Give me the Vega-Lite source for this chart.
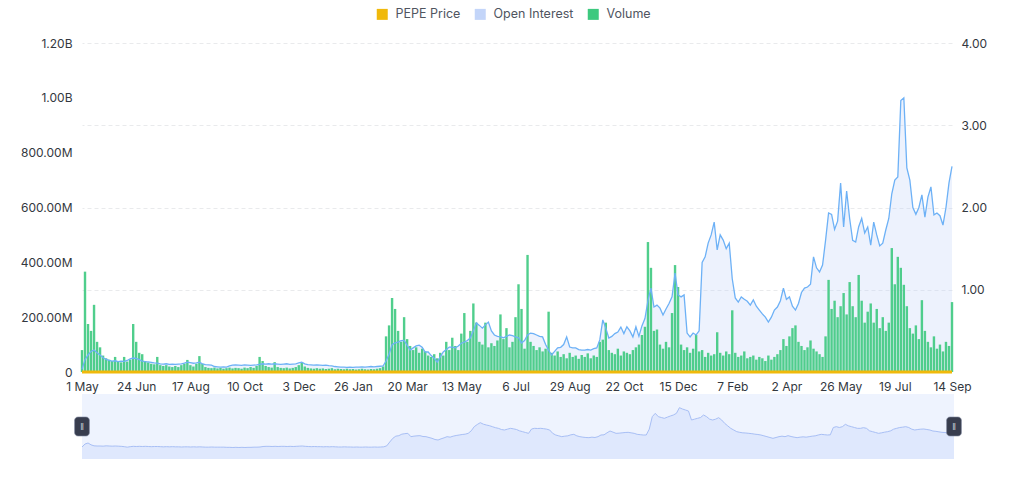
{
  "$schema": "https://vega.github.io/schema/vega-lite/v6.json",
  "description": "PEPE price, open interest and volume with a navigator strip.",
  "background": "white",
  "padding": {"left": 20, "top": 8, "right": 20, "bottom": 20},
  "spacing": 2,
  "datasets": {
    "series": [
      {"d":"2023-05-01","oi":10,"v":80,"p":1.3e-6},
      {"d":"2023-05-04","oi":45,"v":366,"p":3.1e-6},
      {"d":"2023-05-07","oi":62,"v":175,"p":3.7e-6},
      {"d":"2023-05-10","oi":75,"v":150,"p":2.6e-6},
      {"d":"2023-05-13","oi":80,"v":245,"p":2.0e-6},
      {"d":"2023-05-16","oi":70,"v":110,"p":1.9e-6},
      {"d":"2023-05-19","oi":62,"v":90,"p":1.9e-6},
      {"d":"2023-05-22","oi":52,"v":60,"p":1.8e-6},
      {"d":"2023-05-25","oi":46,"v":50,"p":2.0e-6},
      {"d":"2023-05-28","oi":42,"v":45,"p":1.9e-6},
      {"d":"2023-05-31","oi":40,"v":40,"p":1.8e-6},
      {"d":"2023-06-03","oi":41,"v":55,"p":1.9e-6},
      {"d":"2023-06-06","oi":38,"v":40,"p":1.8e-6},
      {"d":"2023-06-09","oi":40,"v":35,"p":1.7e-6},
      {"d":"2023-06-12","oi":39,"v":55,"p":1.5e-6},
      {"d":"2023-06-15","oi":42,"v":38,"p":1.2e-6},
      {"d":"2023-06-18","oi":48,"v":45,"p":1.5e-6},
      {"d":"2023-06-21","oi":51,"v":175,"p":1.7e-6},
      {"d":"2023-06-24","oi":50,"v":110,"p":1.6e-6},
      {"d":"2023-06-27","oi":45,"v":70,"p":1.7e-6},
      {"d":"2023-06-30","oi":40,"v":65,"p":1.6e-6},
      {"d":"2023-07-03","oi":38,"v":40,"p":1.7e-6},
      {"d":"2023-07-06","oi":37,"v":35,"p":1.6e-6},
      {"d":"2023-07-09","oi":35,"v":30,"p":1.5e-6},
      {"d":"2023-07-12","oi":33,"v":28,"p":1.6e-6},
      {"d":"2023-07-15","oi":32,"v":55,"p":1.6e-6},
      {"d":"2023-07-18","oi":30,"v":25,"p":1.5e-6},
      {"d":"2023-07-21","oi":29,"v":22,"p":1.4e-6},
      {"d":"2023-07-24","oi":30,"v":25,"p":1.5e-6},
      {"d":"2023-07-27","oi":28,"v":20,"p":1.4e-6},
      {"d":"2023-07-30","oi":29,"v":18,"p":1.5e-6},
      {"d":"2023-08-02","oi":28,"v":22,"p":1.4e-6},
      {"d":"2023-08-05","oi":29,"v":18,"p":1.4e-6},
      {"d":"2023-08-08","oi":30,"v":25,"p":1.3e-6},
      {"d":"2023-08-11","oi":32,"v":30,"p":1.4e-6},
      {"d":"2023-08-14","oi":36,"v":44,"p":1.4e-6},
      {"d":"2023-08-17","oi":34,"v":25,"p":1.3e-6},
      {"d":"2023-08-20","oi":32,"v":20,"p":1.4e-6},
      {"d":"2023-08-23","oi":33,"v":30,"p":1.3e-6},
      {"d":"2023-08-26","oi":36,"v":58,"p":1.4e-6},
      {"d":"2023-08-29","oi":30,"v":30,"p":1.3e-6},
      {"d":"2023-09-01","oi":27,"v":18,"p":1.2e-6},
      {"d":"2023-09-04","oi":26,"v":15,"p":1.2e-6},
      {"d":"2023-09-07","oi":25,"v":14,"p":1.3e-6},
      {"d":"2023-09-10","oi":20,"v":16,"p":1.2e-6},
      {"d":"2023-09-13","oi":19,"v":13,"p":1.2e-6},
      {"d":"2023-09-16","oi":18,"v":15,"p":1.2e-6},
      {"d":"2023-09-19","oi":19,"v":12,"p":1.2e-6},
      {"d":"2023-09-22","oi":18,"v":14,"p":1.1e-6},
      {"d":"2023-09-25","oi":22,"v":16,"p":1.1e-6},
      {"d":"2023-09-28","oi":25,"v":13,"p":1.0e-6},
      {"d":"2023-10-01","oi":26,"v":15,"p":1.1e-6},
      {"d":"2023-10-04","oi":25,"v":14,"p":1.0e-6},
      {"d":"2023-10-07","oi":24,"v":12,"p":1.1e-6},
      {"d":"2023-10-10","oi":26,"v":16,"p":1.0e-6},
      {"d":"2023-10-13","oi":25,"v":14,"p":1.1e-6},
      {"d":"2023-10-16","oi":24,"v":18,"p":1.1e-6},
      {"d":"2023-10-19","oi":25,"v":15,"p":1.2e-6},
      {"d":"2023-10-22","oi":26,"v":22,"p":1.2e-6},
      {"d":"2023-10-25","oi":28,"v":55,"p":1.3e-6},
      {"d":"2023-10-28","oi":30,"v":40,"p":1.6e-6},
      {"d":"2023-10-31","oi":29,"v":22,"p":1.7e-6},
      {"d":"2023-11-03","oi":30,"v":18,"p":1.7e-6},
      {"d":"2023-11-06","oi":29,"v":16,"p":1.6e-6},
      {"d":"2023-11-09","oi":30,"v":36,"p":1.7e-6},
      {"d":"2023-11-12","oi":29,"v":18,"p":1.6e-6},
      {"d":"2023-11-15","oi":28,"v":15,"p":1.7e-6},
      {"d":"2023-11-18","oi":29,"v":14,"p":1.7e-6},
      {"d":"2023-11-21","oi":30,"v":16,"p":1.6e-6},
      {"d":"2023-11-24","oi":28,"v":13,"p":1.7e-6},
      {"d":"2023-11-27","oi":29,"v":15,"p":1.6e-6},
      {"d":"2023-11-30","oi":30,"v":18,"p":1.7e-6},
      {"d":"2023-12-03","oi":33,"v":25,"p":1.8e-6},
      {"d":"2023-12-06","oi":36,"v":36,"p":1.9e-6},
      {"d":"2023-12-09","oi":30,"v":20,"p":1.7e-6},
      {"d":"2023-12-12","oi":27,"v":15,"p":1.6e-6},
      {"d":"2023-12-15","oi":26,"v":13,"p":1.5e-6},
      {"d":"2023-12-18","oi":25,"v":12,"p":1.6e-6},
      {"d":"2023-12-21","oi":26,"v":14,"p":1.5e-6},
      {"d":"2023-12-24","oi":25,"v":12,"p":1.5e-6},
      {"d":"2023-12-27","oi":24,"v":13,"p":1.4e-6},
      {"d":"2023-12-30","oi":25,"v":11,"p":1.5e-6},
      {"d":"2024-01-02","oi":23,"v":12,"p":1.4e-6},
      {"d":"2024-01-05","oi":22,"v":14,"p":1.5e-6},
      {"d":"2024-01-08","oi":20,"v":10,"p":1.4e-6},
      {"d":"2024-01-11","oi":19,"v":12,"p":1.3e-6},
      {"d":"2024-01-14","oi":18,"v":11,"p":1.3e-6},
      {"d":"2024-01-17","oi":18,"v":10,"p":1.4e-6},
      {"d":"2024-01-20","oi":17,"v":12,"p":1.3e-6},
      {"d":"2024-01-23","oi":18,"v":10,"p":1.3e-6},
      {"d":"2024-01-26","oi":17,"v":11,"p":1.2e-6},
      {"d":"2024-01-29","oi":18,"v":9,"p":1.3e-6},
      {"d":"2024-02-01","oi":18,"v":10,"p":1.2e-6},
      {"d":"2024-02-04","oi":19,"v":12,"p":1.2e-6},
      {"d":"2024-02-07","oi":18,"v":10,"p":1.3e-6},
      {"d":"2024-02-10","oi":19,"v":9,"p":1.2e-6},
      {"d":"2024-02-13","oi":20,"v":11,"p":1.2e-6},
      {"d":"2024-02-16","oi":19,"v":10,"p":1.3e-6},
      {"d":"2024-02-19","oi":20,"v":12,"p":1.2e-6},
      {"d":"2024-02-22","oi":21,"v":14,"p":1.3e-6},
      {"d":"2024-02-25","oi":22,"v":20,"p":1.4e-6},
      {"d":"2024-02-28","oi":40,"v":130,"p":2.0e-6},
      {"d":"2024-03-02","oi":65,"v":170,"p":4.3e-6},
      {"d":"2024-03-05","oi":100,"v":270,"p":6.5e-6},
      {"d":"2024-03-08","oi":106,"v":230,"p":7.8e-6},
      {"d":"2024-03-11","oi":109,"v":150,"p":8.1e-6},
      {"d":"2024-03-14","oi":114,"v":110,"p":9.0e-6},
      {"d":"2024-03-17","oi":115,"v":200,"p":9.3e-6},
      {"d":"2024-03-20","oi":98,"v":120,"p":9.5e-6},
      {"d":"2024-03-23","oi":80,"v":95,"p":7.5e-6},
      {"d":"2024-03-26","oi":88,"v":80,"p":7.8e-6},
      {"d":"2024-03-29","oi":95,"v":90,"p":8.0e-6},
      {"d":"2024-04-01","oi":98,"v":70,"p":8.1e-6},
      {"d":"2024-04-04","oi":90,"v":85,"p":7.6e-6},
      {"d":"2024-04-07","oi":73,"v":75,"p":7.5e-6},
      {"d":"2024-04-10","oi":73,"v":60,"p":7.0e-6},
      {"d":"2024-04-13","oi":60,"v":55,"p":6.5e-6},
      {"d":"2024-04-16","oi":50,"v":65,"p":5.8e-6},
      {"d":"2024-04-19","oi":36,"v":50,"p":5.5e-6},
      {"d":"2024-04-22","oi":55,"v":70,"p":6.2e-6},
      {"d":"2024-04-25","oi":73,"v":60,"p":6.8e-6},
      {"d":"2024-04-28","oi":82,"v":110,"p":7.5e-6},
      {"d":"2024-05-01","oi":91,"v":80,"p":7.2e-6},
      {"d":"2024-05-04","oi":91,"v":125,"p":7.8e-6},
      {"d":"2024-05-07","oi":88,"v":95,"p":8.2e-6},
      {"d":"2024-05-10","oi":95,"v":80,"p":8.5e-6},
      {"d":"2024-05-13","oi":105,"v":140,"p":8.8e-6},
      {"d":"2024-05-16","oi":109,"v":215,"p":9.0e-6},
      {"d":"2024-05-19","oi":115,"v":110,"p":9.5e-6},
      {"d":"2024-05-22","oi":124,"v":150,"p":11.0e-6},
      {"d":"2024-05-25","oi":150,"v":250,"p":13.5e-6},
      {"d":"2024-05-28","oi":179,"v":180,"p":14.8e-6},
      {"d":"2024-05-31","oi":170,"v":110,"p":15.9e-6},
      {"d":"2024-06-03","oi":160,"v":100,"p":15.0e-6},
      {"d":"2024-06-06","oi":172,"v":180,"p":14.5e-6},
      {"d":"2024-06-09","oi":182,"v":90,"p":14.1e-6},
      {"d":"2024-06-12","oi":150,"v":105,"p":13.5e-6},
      {"d":"2024-06-15","oi":135,"v":95,"p":12.9e-6},
      {"d":"2024-06-18","oi":130,"v":115,"p":12.5e-6},
      {"d":"2024-06-21","oi":128,"v":210,"p":11.8e-6},
      {"d":"2024-06-24","oi":125,"v":120,"p":11.5e-6},
      {"d":"2024-06-27","oi":130,"v":160,"p":12.0e-6},
      {"d":"2024-06-30","oi":135,"v":90,"p":12.5e-6},
      {"d":"2024-07-03","oi":133,"v":110,"p":12.2e-6},
      {"d":"2024-07-06","oi":128,"v":200,"p":11.8e-6},
      {"d":"2024-07-09","oi":125,"v":320,"p":11.0e-6},
      {"d":"2024-07-12","oi":106,"v":230,"p":10.5e-6},
      {"d":"2024-07-15","oi":115,"v":85,"p":10.0e-6},
      {"d":"2024-07-18","oi":135,"v":427,"p":9.5e-6},
      {"d":"2024-07-21","oi":142,"v":110,"p":12.1e-6},
      {"d":"2024-07-24","oi":140,"v":95,"p":12.5e-6},
      {"d":"2024-07-27","oi":135,"v":80,"p":12.4e-6},
      {"d":"2024-07-30","oi":130,"v":90,"p":12.5e-6},
      {"d":"2024-08-02","oi":128,"v":75,"p":12.3e-6},
      {"d":"2024-08-05","oi":100,"v":85,"p":12.0e-6},
      {"d":"2024-08-08","oi":80,"v":220,"p":11.5e-6},
      {"d":"2024-08-11","oi":62,"v":70,"p":9.5e-6},
      {"d":"2024-08-14","oi":75,"v":60,"p":8.5e-6},
      {"d":"2024-08-17","oi":88,"v":75,"p":8.0e-6},
      {"d":"2024-08-20","oi":90,"v":55,"p":7.5e-6},
      {"d":"2024-08-23","oi":100,"v":65,"p":7.8e-6},
      {"d":"2024-08-26","oi":128,"v":50,"p":8.0e-6},
      {"d":"2024-08-29","oi":91,"v":70,"p":8.6e-6},
      {"d":"2024-09-01","oi":88,"v":55,"p":8.9e-6},
      {"d":"2024-09-04","oi":88,"v":60,"p":8.0e-6},
      {"d":"2024-09-07","oi":82,"v":48,"p":7.5e-6},
      {"d":"2024-09-10","oi":80,"v":62,"p":7.2e-6},
      {"d":"2024-09-13","oi":80,"v":55,"p":7.0e-6},
      {"d":"2024-09-16","oi":82,"v":68,"p":6.9e-6},
      {"d":"2024-09-19","oi":80,"v":50,"p":7.2e-6},
      {"d":"2024-09-22","oi":85,"v":60,"p":7.0e-6},
      {"d":"2024-09-25","oi":88,"v":55,"p":7.5e-6},
      {"d":"2024-09-28","oi":117,"v":110,"p":8.5e-6},
      {"d":"2024-10-01","oi":190,"v":118,"p":8.6e-6},
      {"d":"2024-10-04","oi":160,"v":180,"p":9.8e-6},
      {"d":"2024-10-07","oi":124,"v":80,"p":10.9e-6},
      {"d":"2024-10-10","oi":130,"v":70,"p":10.2e-6},
      {"d":"2024-10-13","oi":140,"v":65,"p":9.5e-6},
      {"d":"2024-10-16","oi":146,"v":85,"p":9.6e-6},
      {"d":"2024-10-19","oi":164,"v":60,"p":9.8e-6},
      {"d":"2024-10-22","oi":140,"v":75,"p":10.0e-6},
      {"d":"2024-10-25","oi":165,"v":70,"p":10.1e-6},
      {"d":"2024-10-28","oi":150,"v":65,"p":9.8e-6},
      {"d":"2024-10-31","oi":128,"v":80,"p":9.5e-6},
      {"d":"2024-11-03","oi":165,"v":90,"p":8.9e-6},
      {"d":"2024-11-06","oi":130,"v":100,"p":8.7e-6},
      {"d":"2024-11-09","oi":168,"v":135,"p":8.5e-6},
      {"d":"2024-11-12","oi":195,"v":165,"p":8.5e-6},
      {"d":"2024-11-15","oi":260,"v":474,"p":12.0e-6},
      {"d":"2024-11-18","oi":306,"v":380,"p":19.5e-6},
      {"d":"2024-11-21","oi":237,"v":150,"p":21.5e-6},
      {"d":"2024-11-24","oi":244,"v":155,"p":19.5e-6},
      {"d":"2024-11-27","oi":233,"v":100,"p":19.0e-6},
      {"d":"2024-11-30","oi":208,"v":85,"p":18.5e-6},
      {"d":"2024-12-03","oi":230,"v":110,"p":19.2e-6},
      {"d":"2024-12-06","oi":250,"v":90,"p":19.9e-6},
      {"d":"2024-12-09","oi":274,"v":215,"p":20.5e-6},
      {"d":"2024-12-12","oi":361,"v":390,"p":21.5e-6},
      {"d":"2024-12-15","oi":281,"v":310,"p":24.9e-6},
      {"d":"2024-12-18","oi":274,"v":100,"p":24.1e-6},
      {"d":"2024-12-21","oi":281,"v":80,"p":23.5e-6},
      {"d":"2024-12-24","oi":142,"v":90,"p":22.9e-6},
      {"d":"2024-12-27","oi":128,"v":70,"p":17.5e-6},
      {"d":"2024-12-30","oi":142,"v":85,"p":18.0e-6},
      {"d":"2025-01-02","oi":135,"v":135,"p":18.5e-6},
      {"d":"2025-01-05","oi":150,"v":75,"p":19.0e-6},
      {"d":"2025-01-08","oi":400,"v":80,"p":20.5e-6},
      {"d":"2025-01-11","oi":420,"v":55,"p":19.5e-6},
      {"d":"2025-01-14","oi":470,"v":70,"p":18.0e-6},
      {"d":"2025-01-17","oi":500,"v":60,"p":17.5e-6},
      {"d":"2025-01-20","oi":547,"v":65,"p":18.0e-6},
      {"d":"2025-01-23","oi":445,"v":145,"p":18.9e-6},
      {"d":"2025-01-26","oi":500,"v":70,"p":17.5e-6},
      {"d":"2025-01-29","oi":481,"v":60,"p":15.5e-6},
      {"d":"2025-02-01","oi":450,"v":75,"p":14.0e-6},
      {"d":"2025-02-04","oi":470,"v":65,"p":12.5e-6},
      {"d":"2025-02-07","oi":340,"v":225,"p":11.5e-6},
      {"d":"2025-02-10","oi":270,"v":70,"p":10.5e-6},
      {"d":"2025-02-13","oi":255,"v":55,"p":10.1e-6},
      {"d":"2025-02-16","oi":274,"v":60,"p":9.8e-6},
      {"d":"2025-02-19","oi":265,"v":75,"p":9.7e-6},
      {"d":"2025-02-22","oi":258,"v":50,"p":9.5e-6},
      {"d":"2025-02-25","oi":244,"v":55,"p":9.3e-6},
      {"d":"2025-02-28","oi":263,"v":60,"p":9.0e-6},
      {"d":"2025-03-03","oi":240,"v":45,"p":8.8e-6},
      {"d":"2025-03-06","oi":226,"v":55,"p":8.5e-6},
      {"d":"2025-03-09","oi":212,"v":50,"p":8.0e-6},
      {"d":"2025-03-12","oi":200,"v":40,"p":7.5e-6},
      {"d":"2025-03-15","oi":182,"v":60,"p":7.0e-6},
      {"d":"2025-03-18","oi":200,"v":45,"p":6.5e-6},
      {"d":"2025-03-21","oi":226,"v":55,"p":7.0e-6},
      {"d":"2025-03-24","oi":237,"v":65,"p":7.5e-6},
      {"d":"2025-03-27","oi":260,"v":80,"p":7.8e-6},
      {"d":"2025-03-30","oi":306,"v":120,"p":7.5e-6},
      {"d":"2025-04-02","oi":265,"v":95,"p":8.1e-6},
      {"d":"2025-04-05","oi":274,"v":130,"p":7.6e-6},
      {"d":"2025-04-08","oi":240,"v":160,"p":7.2e-6},
      {"d":"2025-04-11","oi":226,"v":170,"p":6.9e-6},
      {"d":"2025-04-14","oi":250,"v":110,"p":7.2e-6},
      {"d":"2025-04-17","oi":290,"v":95,"p":7.4e-6},
      {"d":"2025-04-20","oi":306,"v":80,"p":7.2e-6},
      {"d":"2025-04-23","oi":310,"v":90,"p":7.5e-6},
      {"d":"2025-04-26","oi":320,"v":115,"p":7.8e-6},
      {"d":"2025-04-29","oi":420,"v":85,"p":8.0e-6},
      {"d":"2025-05-02","oi":380,"v":75,"p":8.5e-6},
      {"d":"2025-05-05","oi":365,"v":65,"p":8.9e-6},
      {"d":"2025-05-08","oi":390,"v":55,"p":8.7e-6},
      {"d":"2025-05-11","oi":480,"v":130,"p":8.5e-6},
      {"d":"2025-05-14","oi":580,"v":336,"p":8.6e-6},
      {"d":"2025-05-17","oi":575,"v":230,"p":13.0e-6},
      {"d":"2025-05-20","oi":520,"v":260,"p":13.5e-6},
      {"d":"2025-05-23","oi":550,"v":200,"p":13.0e-6},
      {"d":"2025-05-26","oi":689,"v":240,"p":13.5e-6},
      {"d":"2025-05-29","oi":529,"v":288,"p":14.9e-6},
      {"d":"2025-06-01","oi":660,"v":210,"p":14.0e-6},
      {"d":"2025-06-04","oi":560,"v":328,"p":13.5e-6},
      {"d":"2025-06-07","oi":480,"v":240,"p":13.0e-6},
      {"d":"2025-06-10","oi":474,"v":200,"p":12.5e-6},
      {"d":"2025-06-13","oi":530,"v":354,"p":12.5e-6},
      {"d":"2025-06-16","oi":560,"v":260,"p":12.9e-6},
      {"d":"2025-06-19","oi":507,"v":180,"p":12.5e-6},
      {"d":"2025-06-22","oi":529,"v":220,"p":11.0e-6},
      {"d":"2025-06-25","oi":463,"v":250,"p":10.5e-6},
      {"d":"2025-06-28","oi":547,"v":180,"p":10.0e-6},
      {"d":"2025-07-01","oi":500,"v":230,"p":9.5e-6},
      {"d":"2025-07-04","oi":460,"v":160,"p":9.8e-6},
      {"d":"2025-07-07","oi":470,"v":200,"p":10.2e-6},
      {"d":"2025-07-10","oi":518,"v":150,"p":10.5e-6},
      {"d":"2025-07-13","oi":560,"v":180,"p":11.0e-6},
      {"d":"2025-07-16","oi":650,"v":452,"p":12.0e-6},
      {"d":"2025-07-19","oi":700,"v":320,"p":12.5e-6},
      {"d":"2025-07-22","oi":711,"v":420,"p":13.0e-6},
      {"d":"2025-07-25","oi":990,"v":380,"p":13.2e-6},
      {"d":"2025-07-28","oi":1000,"v":318,"p":13.5e-6},
      {"d":"2025-07-31","oi":744,"v":240,"p":13.0e-6},
      {"d":"2025-08-03","oi":700,"v":160,"p":12.0e-6},
      {"d":"2025-08-06","oi":600,"v":140,"p":11.5e-6},
      {"d":"2025-08-09","oi":575,"v":170,"p":11.8e-6},
      {"d":"2025-08-12","oi":600,"v":120,"p":12.0e-6},
      {"d":"2025-08-15","oi":646,"v":262,"p":12.1e-6},
      {"d":"2025-08-18","oi":565,"v":150,"p":11.8e-6},
      {"d":"2025-08-21","oi":638,"v":110,"p":11.5e-6},
      {"d":"2025-08-24","oi":675,"v":90,"p":10.9e-6},
      {"d":"2025-08-27","oi":573,"v":130,"p":10.7e-6},
      {"d":"2025-08-30","oi":580,"v":85,"p":10.4e-6},
      {"d":"2025-09-02","oi":570,"v":100,"p":10.1e-6},
      {"d":"2025-09-05","oi":536,"v":75,"p":10.0e-6},
      {"d":"2025-09-08","oi":600,"v":110,"p":9.8e-6},
      {"d":"2025-09-11","oi":690,"v":95,"p":9.6e-6},
      {"d":"2025-09-14","oi":750,"v":255,"p":9.5e-6}
    ],
    "handles": [
      {"d": "2023-05-01"},
      {"d": "2025-09-14"}
    ]
  },
  "vconcat": [
    {
      "width": 870,
      "height": 329,
      "data": {"name": "series"},
      "encoding": {
        "x": {
          "field": "d",
          "type": "temporal",
          "scale": {
            "type": "utc",
            "nice": false,
            "padding": 0,
            "domain": [
              {"year": 2023, "month": 5, "date": 1, "utc": true},
              {"year": 2025, "month": 9, "date": 14, "utc": true}
            ]
          },
          "axis": {
            "title": null,
            "grid": false,
            "labelExpr": "utcFormat(datum.value, '%-d %b')",
            "labelFlush": false,
            "labelOverlap": false,
            "labelPadding": 9,
            "values": [
              {"year": 2023, "month": 5, "date": 1, "utc": true},
              {"year": 2023, "month": 6, "date": 24, "utc": true},
              {"year": 2023, "month": 8, "date": 17, "utc": true},
              {"year": 2023, "month": 10, "date": 10, "utc": true},
              {"year": 2023, "month": 12, "date": 3, "utc": true},
              {"year": 2024, "month": 1, "date": 26, "utc": true},
              {"year": 2024, "month": 3, "date": 20, "utc": true},
              {"year": 2024, "month": 5, "date": 13, "utc": true},
              {"year": 2024, "month": 7, "date": 6, "utc": true},
              {"year": 2024, "month": 8, "date": 29, "utc": true},
              {"year": 2024, "month": 10, "date": 22, "utc": true},
              {"year": 2024, "month": 12, "date": 15, "utc": true},
              {"year": 2025, "month": 2, "date": 7, "utc": true},
              {"year": 2025, "month": 4, "date": 2, "utc": true},
              {"year": 2025, "month": 5, "date": 26, "utc": true},
              {"year": 2025, "month": 7, "date": 19, "utc": true},
              {"year": 2025, "month": 9, "date": 14, "utc": true}
            ]
          }
        }
      },
      "layer": [
        {
          "layer": [
            {
              "mark": {"type": "area", "opacity": 0.3},
              "encoding": {
                "y": {
                  "field": "oi",
                  "type": "quantitative",
                  "scale": {"domain": [0, 1200]},
                  "axis": {
                    "title": null,
                    "grid": false,
                    "values": [0, 200, 400, 600, 800, 1000, 1200],
                    "labelPadding": 10,
                    "labelExpr": "datum.value == 0 ? '0' : datum.value >= 1000 ? format(datum.value / 1000, '.2f') + 'B' : format(datum.value, '.2f') + 'M'"
                  }
                },
                "color": {
                  "datum": "Open Interest",
                  "scale": {
                    "domain": ["PEPE Price", "Open Interest", "Volume"],
                    "range": ["#f0b90b", "#c3d5f9", "#3dc97f"]
                  },
                  "legend": {
                    "title": null,
                    "orient": "none",
                    "direction": "horizontal",
                    "legendX": 294,
                    "legendY": -35,
                    "symbolType": "square",
                    "symbolSize": 121,
                    "symbolStrokeWidth": 0,
                    "symbolOpacity": 1,
                    "labelFont": "Inter",
                    "labelFontSize": 12.5,
                    "labelColor": "#50555f",
                    "labelOffset": 7,
                    "columnPadding": 13,
                    "encode": {
                      "symbols": {
                        "update": {
                          "fill": {"scale": "color", "field": "value"},
                          "stroke": {"value": "transparent"},
                          "shape": {"value": "square"},
                          "size": {"value": 121},
                          "opacity": {"value": 1}
                        }
                      }
                    }
                  }
                }
              }
            },
            {
              "mark": {"type": "bar", "size": 2.4, "opacity": 0.9},
              "encoding": {
                "y": {"field": "v", "type": "quantitative"},
                "color": {"datum": "Volume"}
              }
            },
            {
              "mark": {"type": "line", "color": "#6db1f6", "strokeWidth": 1.3},
              "encoding": {
                "y": {"field": "oi", "type": "quantitative"}
              }
            }
          ]
        },
        {
          "mark": {"type": "line", "strokeWidth": 3},
          "encoding": {
            "y": {
              "field": "p",
              "type": "quantitative",
              "scale": {"domain": [0, 4]},
              "axis": {
                "title": null,
                "orient": "right",
                "values": [1, 2, 3, 4],
                "format": ".2f",
                "grid": true,
                "gridDash": [4, 3],
                "gridColor": "#e9eaec",
                "labelPadding": 9
              }
            },
            "color": {"datum": "PEPE Price"}
          }
        }
      ],
      "resolve": {"scale": {"y": "independent"}}
    },
    {
      "width": 872,
      "height": 65,
      "view": {"fill": "#eef3fe", "stroke": null},
      "encoding": {
        "x": {
          "field": "d",
          "type": "temporal",
          "scale": {
            "type": "utc",
            "nice": false,
            "domain": [
              {"year": 2023, "month": 5, "date": 1, "utc": true},
              {"year": 2025, "month": 9, "date": 14, "utc": true}
            ]
          },
          "axis": null
        }
      },
      "layer": [
        {
          "data": {"name": "series"},
          "mark": {"type": "area", "color": "#d9e3fc", "line": {"color": "#a8bff5", "strokeWidth": 1}},
          "encoding": {
            "y": {
              "field": "p",
              "type": "quantitative",
              "scale": {"domain": [-0.0000059, 0.0000331]},
              "axis": null
            },
            "y2": {"datum": -0.0000059}
          }
        },
        {
          "data": {"name": "handles"},
          "mark": {
            "type": "point",
            "shape": "M-0.43,-1 L0.43,-1 A0.35,0.35 0 0 1 0.78,-0.65 L0.78,0.65 A0.35,0.35 0 0 1 0.43,1 L-0.43,1 A0.35,0.35 0 0 1 -0.78,0.65 L-0.78,-0.65 A0.35,0.35 0 0 1 -0.43,-1 Z",
            "size": 360,
            "filled": true,
            "fill": "#383d4e",
            "stroke": "#7d879e",
            "strokeWidth": 0.6,
            "opacity": 1
          }
        },
        {
          "data": {"name": "handles"},
          "mark": {"type": "text", "text": "‖", "color": "#c8cdd8", "fontSize": 9, "align": "center", "baseline": "middle"}
        }
      ]
    }
  ],
  "config": {
    "view": {"stroke": null},
    "axis": {
      "domain": false,
      "ticks": false,
      "labelFont": "Inter",
      "labelFontSize": 12,
      "labelColor": "#333840"
    }
  }
}
